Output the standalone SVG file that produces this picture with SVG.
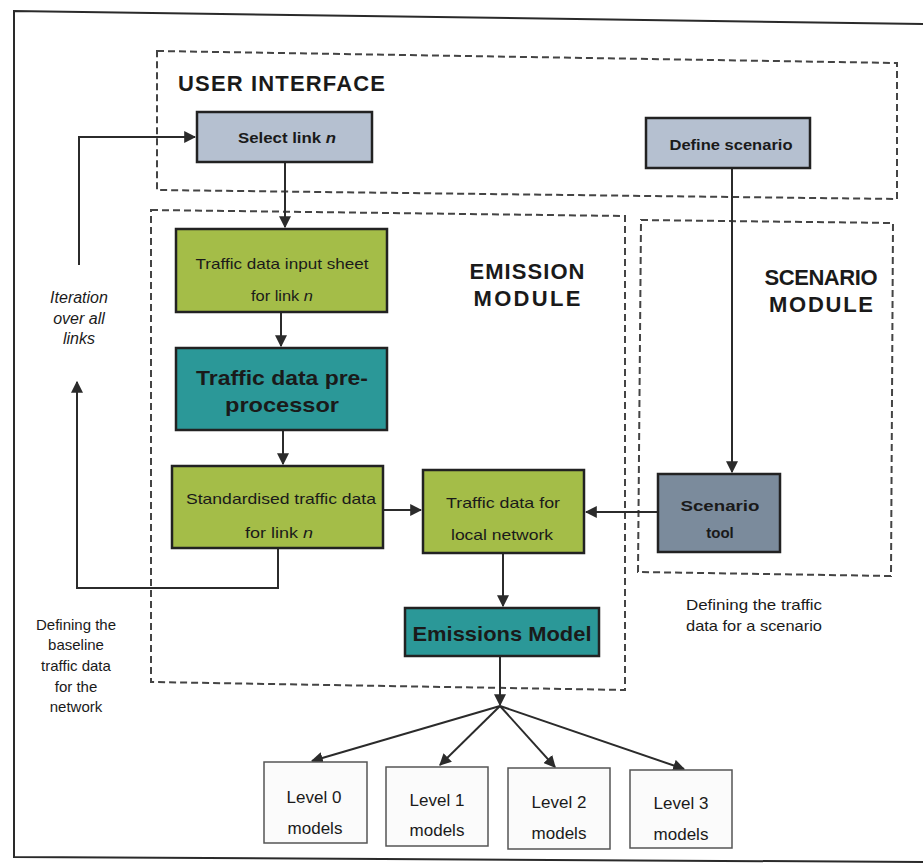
<svg xmlns="http://www.w3.org/2000/svg" width="923" height="868" viewBox="0 0 923 868">
<defs>
<style>
.frame{fill:none;stroke:#2a2a2a;stroke-width:2}
.dash{fill:none;stroke:#444;stroke-width:2;stroke-dasharray:7,4}
.conn{fill:none;stroke:#2b2b2b;stroke-width:2}
.box{stroke:#222;stroke-width:2.5}
.blue{fill:#b5c0d0}
.green{fill:#a4bd48}
.teal{fill:#2b9898}
.grey{fill:#7b8b9c}
.lvl{fill:#fbfbfb;stroke:#555;stroke-width:1.5}
text{font-family:"Liberation Sans",Arial,sans-serif;fill:#1a1a1a}
.title{font-size:22px;font-weight:bold}
.small{font-size:15px;text-anchor:middle}
.smallb{font-size:15px;font-weight:bold;text-anchor:middle}
.big{font-size:21px;font-weight:bold;text-anchor:middle}
.note{font-size:15px;text-anchor:middle}
.it{font-size:16px;font-style:italic;text-anchor:middle}
.lv{font-size:17px;text-anchor:middle}
</style>
<marker id="ah" viewBox="0 0 10 10" refX="9" refY="5" markerWidth="6" markerHeight="6" orient="auto">
<path d="M0,0 L10,5 L0,10 z" fill="#2b2b2b"/>
</marker>
</defs>
<rect width="923" height="868" fill="#ffffff"/>
<path class="frame" d="M923,24 L14,11 L14,857 L923,862"/>

<g id="user-interface">
<path class="dash" d="M157,51 L897,63 L897,199 L157,190 Z"/>
<text class="title" x="178" y="91" textLength="207">USER INTERFACE</text>
</g>
<g id="emission-module">
<path class="dash" d="M151,210 L625,216 L625,690 L151,682 Z"/>
<text class="title" x="527" y="279" text-anchor="middle" textLength="115">EMISSION</text>
<text class="title" x="527" y="306" text-anchor="middle" textLength="107">MODULE</text>
</g>
<g id="scenario-module">
<path class="dash" d="M641,220 L893,223 L891,576 L638,572 Z"/>
<text class="title" x="821" y="285" text-anchor="middle" textLength="113">SCENARIO</text>
<text class="title" x="821" y="312" text-anchor="middle" textLength="104">MODULE</text>
</g>

<g id="connectors">
<path class="conn" d="M285,162 L285,227" marker-end="url(#ah)"/>
<path class="conn" d="M281,312 L281,346" marker-end="url(#ah)"/>
<path class="conn" d="M283,430 L283,464" marker-end="url(#ah)"/>
<path class="conn" d="M383,510 L421,510" marker-end="url(#ah)"/>
<path class="conn" d="M658,512 L586,512" marker-end="url(#ah)"/>
<path class="conn" d="M732,168 L732,472" marker-end="url(#ah)"/>
<path class="conn" d="M503,553 L503,606" marker-end="url(#ah)"/>
<path class="conn" d="M278,548 L278,588 L77,588 L77,382" marker-end="url(#ah)"/>
<path class="conn" d="M79,265 L79,137 L195,137" marker-end="url(#ah)"/>
<path class="conn" d="M500,656 L500,705" marker-end="url(#ah)"/>
<path class="conn" d="M500,706 L312,761" marker-end="url(#ah)"/>
<path class="conn" d="M500,706 L440,765" marker-end="url(#ah)"/>
<path class="conn" d="M500,706 L555,767" marker-end="url(#ah)"/>
<path class="conn" d="M500,706 L684,769" marker-end="url(#ah)"/>
</g>

<g id="select-link">
<rect class="box blue" x="197" y="112" width="175" height="50"/>
<text class="smallb" x="287" y="143" textLength="98" lengthAdjust="spacingAndGlyphs">Select link <tspan font-style="italic">n</tspan></text>
</g>
<g id="define-scenario">
<rect class="box blue" x="646" y="118" width="164" height="50"/>
<text class="smallb" x="731" y="150" textLength="123" lengthAdjust="spacingAndGlyphs">Define scenario</text>
</g>
<g id="traffic-input">
<rect class="box green" x="176" y="229" width="211" height="83"/>
<text class="small" x="282" y="269" textLength="173" lengthAdjust="spacingAndGlyphs">Traffic data input sheet</text>
<text class="small" x="282" y="301" textLength="62" lengthAdjust="spacingAndGlyphs">for link <tspan font-style="italic">n</tspan></text>
</g>
<g id="pre-processor">
<rect class="box teal" x="176" y="348" width="211" height="82"/>
<text class="big" x="282" y="385" textLength="172" lengthAdjust="spacingAndGlyphs">Traffic data pre-</text>
<text class="big" x="282" y="412" textLength="114" lengthAdjust="spacingAndGlyphs">processor</text>
</g>
<g id="standardised">
<rect class="box green" x="172" y="466" width="211" height="82"/>
<text class="small" x="281" y="504" textLength="190" lengthAdjust="spacingAndGlyphs">Standardised traffic data</text>
<text class="small" x="279" y="538" textLength="68" lengthAdjust="spacingAndGlyphs">for link <tspan font-style="italic">n</tspan></text>
</g>
<g id="local-network">
<rect class="box green" x="423" y="470" width="161" height="83"/>
<text class="small" x="503" y="508" textLength="114" lengthAdjust="spacingAndGlyphs">Traffic data for</text>
<text class="small" x="502" y="540" textLength="102" lengthAdjust="spacingAndGlyphs">local network</text>
</g>
<g id="scenario-tool">
<rect class="box grey" x="658" y="474" width="122" height="78"/>
<text class="smallb" x="720" y="511" font-size="18" textLength="79" lengthAdjust="spacingAndGlyphs">Scenario</text>
<text class="smallb" x="720" y="538" font-size="18">tool</text>
</g>
<g id="emissions-model">
<rect class="box teal" x="405" y="608" width="194" height="48"/>
<text class="big" x="502" y="641" font-size="20" textLength="179" lengthAdjust="spacingAndGlyphs">Emissions Model</text>
</g>
<g id="level0">
<rect class="lvl" x="264" y="762" width="103" height="81"/>
<text class="lv" x="314" y="803">Level 0</text>
<text class="lv" x="315" y="834">models</text>
</g>
<g id="level1">
<rect class="lvl" x="386" y="767" width="102" height="79"/>
<text class="lv" x="437" y="806">Level 1</text>
<text class="lv" x="437" y="836">models</text>
</g>
<g id="level2">
<rect class="lvl" x="508" y="768" width="102" height="81"/>
<text class="lv" x="559" y="808">Level 2</text>
<text class="lv" x="559" y="839">models</text>
</g>
<g id="level3">
<rect class="lvl" x="630" y="770" width="102" height="78"/>
<text class="lv" x="681" y="809">Level 3</text>
<text class="lv" x="681" y="840">models</text>
</g>

<g id="notes">
<text class="it" x="79" y="303">Iteration</text>
<text class="it" x="79" y="324">over all</text>
<text class="it" x="79" y="344">links</text>
<text class="note" x="76" y="630">Defining the</text>
<text class="note" x="76" y="650">baseline</text>
<text class="note" x="76" y="671">traffic data</text>
<text class="note" x="76" y="692">for the</text>
<text class="note" x="76" y="712">network</text>
<text class="note" x="754" y="610" textLength="136" lengthAdjust="spacingAndGlyphs">Defining the traffic</text>
<text class="note" x="754" y="631" textLength="136" lengthAdjust="spacingAndGlyphs">data for a scenario</text>
</g>
</svg>
